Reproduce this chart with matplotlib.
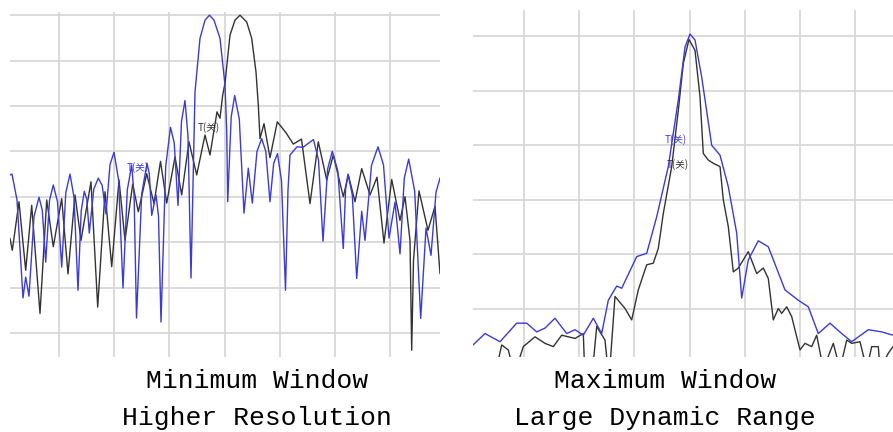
import numpy as np
import matplotlib
matplotlib.use("Agg")
import matplotlib.pyplot as plt

# ---- left panel: minimum window (trace point index, level in dB) ----
min_blue_x = [0, 2, 7, 13, 15.7, 19, 24, 29, 32.3, 35.7, 39.5, 43.3, 47.5, 51.7, 55.8, 60, 64, 68,
              71.2, 74.3, 76.8, 79.3, 83.8, 88.3, 92.2, 96, 100, 104, 108.5, 113, 117.3, 121.7, 124.1,
              126.5, 131.7, 137, 139.3, 141.7, 146, 148.5, 151, 155.7, 160.5, 164.2, 168, 171.5, 175,
              178, 181, 185, 190, 195, 199.5, 204, 210, 215, 216.7, 217.7, 221.2, 224.7, 229.3, 234,
              238.3, 242.3, 247, 251.7, 255.8, 260, 263.7, 267.5, 271.5, 275.5, 278, 280, 287, 293,
              303.5, 308.5, 313, 317.6, 322.3, 327.8, 333.3, 335.6, 338, 342.3, 346.7, 351.7, 355,
              361.5, 368, 373.5, 379, 385, 390, 394.3, 398.7, 404.7, 410.7, 416, 421, 426, 430]
min_blue_db = [-35.2, -35.0, -40.7, -62.3, -57.7, -61.9, -44.4, -40.1, -43.0, -54.4, -40.8, -37.4,
               -41.1, -55.5, -39.1, -35.0, -40.1, -60.6, -43.1, -38.8, -40.6, -48.0, -38.3, -35.9,
               -37.5, -43.8, -32.9, -30.2, -36.2, -60.1, -38.5, -33.0, -39.8, -66.7, -39.4, -32.6,
               -34.9, -44.1, -39.6, -44.3, -67.6, -33.3, -24.7, -28.1, -41.9, -23.4, -18.8, -26.7,
               -57.9, -16.9, -5.1, -1.1, 0.0, -1.1, -5.1, -15.4, -25.3, -41.1, -22.4, -17.7, -22.9,
               -43.6, -33.7, -41.4, -30.0, -27.2, -30.0, -41.1, -32.6, -30.5, -36.5, -60.6, -38.5,
               -30.8, -29.0, -29.1, -27.4, -31.9, -49.8, -33.9, -30.0, -34.3, -51.4, -38.3, -35.0,
               -39.6, -58.0, -43.2, -49.6, -33.1, -29.0, -33.0, -49.1, -41.2, -52.6, -35.9, -31.7,
               -38.8, -66.8, -46.9, -52.9, -39.0, -35.9]

min_black_x = [0, 2.3, 9, 15.7, 21.7, 30, 36.7, 43.3, 51.7, 58, 65, 71, 81, 87.7, 95, 101.7, 109,
               115, 122.7, 128.3, 136.7, 144, 150.5, 156.7, 165, 171.7, 179, 186.7, 195, 200, 207,
               210, 212.7, 215, 220, 225, 230, 236.7, 241.7, 246, 248.3, 250, 254, 260, 267.3, 276,
               283.3, 291.5, 300, 308.3, 316.7, 323.3, 333.3, 338.3, 345, 351.7, 360, 367, 374,
               381.7, 390, 395, 400, 401.7, 403.5, 409, 418, 425, 430]
min_black_db = [-49.2, -51.8, -41.1, -56.2, -41.9, -65.7, -40.7, -51.0, -40.4, -57.0, -39.6, -49.6,
                -36.7, -64.3, -38.9, -55.4, -36.3, -49.6, -37.2, -43.3, -34.9, -41.5, -32.2, -41.4,
                -31.2, -39.6, -27.9, -35.2, -26.4, -30.8, -21.3, -22.7, -17.6, -15.0, -4.4, -1.1,
                0.0, -1.5, -5.1, -12.5, -19.8, -27.2, -23.9, -31.4, -23.5, -25.9, -28.4, -27.3,
                -41.5, -27.9, -36.3, -30.8, -40.0, -35.2, -41.1, -33.8, -39.6, -35.7, -50.2, -36.2,
                -45.2, -40.0, -49.6, -73.8, -54.0, -38.7, -47.4, -42.1, -56.9]

# ---- right panel: maximum window ----
max_blue_x = [0, 12, 27, 43.7, 53.7, 63.7, 72, 82, 93.7, 102, 110.3, 120.3, 128.7, 135.3, 143.7,
              148.7, 163.7, 173.7, 183.7, 195.3, 205.3, 212, 217, 222, 228.7, 238.7, 247, 255.3,
              263.7, 268.7, 275.3, 285.3, 295.3, 312, 325.3, 335.3, 345.3, 357, 368.7, 378.7,
              395.3, 408.7, 420]
max_blue_db = [-56.6, -54.5, -56.0, -52.6, -52.6, -54.2, -53.5, -51.7, -54.5, -53.8, -54.8, -51.7,
               -54.5, -48.4, -45.8, -46.2, -40.4, -39.8, -33.1, -23.9, -11.7, -2.0, 0.4, -0.7,
               -7.5, -20.0, -21.8, -27.6, -36.1, -48.0, -41.0, -37.5, -38.6, -46.5, -48.4, -49.6,
               -54.5, -52.6, -54.5, -56.0, -53.8, -54.2, -54.8]

max_black_x = [22, 28.7, 35.3, 41.3, 50.3, 62, 72, 80.3, 88.7, 102, 110.3, 112, 118.7, 123.7, 132,
               136, 142, 152, 158.7, 165.3, 173.7, 180.3, 185.3, 190.3, 198.7, 205.3, 210.3, 216,
               222, 227, 230.3, 235.3, 240.3, 247, 250.3, 255.3, 260.3, 265.3, 275.3, 283.7,
               290.3, 295.3, 300.3, 305.3, 308.7, 313.7, 318.7, 327, 332, 338.7, 343.7, 350.3,
               360.3, 367, 373.7, 378.7, 387, 393.7, 398.7, 405.3, 407, 415.3, 420]
max_black_db = [-62, -56.6, -57.5, -62, -56.9, -55.1, -56.3, -56.9, -54.8, -55.4, -54.5, -63, -63,
                -53.2, -55.7, -63, -47.7, -49.9, -52.0, -46.5, -41.9, -41.6, -38.9, -32.5, -23.9,
                -13.6, -5.0, -0.6, -2.6, -11.1, -21.5, -22.7, -23.3, -23.9, -30.0, -34.9, -43.2,
                -42.5, -39.5, -43.5, -42.5, -44.4, -52.0, -49.9, -50.8, -49.6, -51.4, -57.5, -56.3,
                -56.9, -54.8, -61, -56.3, -61, -55.7, -56.3, -56.0, -61, -56.9, -56.9, -61, -58.1,
                -56.9]

marker_label = "T(关)"
captions_left = ["Minimum Window", "Higher Resolution"]
captions_right = ["Maximum Window", "Large Dynamic Range"]

BLUE = '#3b3bd6'
BLACK = '#333333'
GRID = '#d8d8d8'


def setup(ax, xticks, yticks, xlim, ylim):
    ax.set_xlim(*xlim)
    ax.set_ylim(*ylim)
    ax.set_xticks(xticks)
    ax.set_yticks(yticks)
    ax.grid(True, color=GRID, lw=1.3)
    ax.set_axisbelow(True)
    ax.tick_params(length=0, labelbottom=False, labelleft=False)
    for s in ax.spines.values():
        s.set_visible(False)


fig = plt.figure(figsize=(8.93, 4.32), dpi=100)
W, H = 893.0, 432.0

ax1 = fig.add_axes([10 / W, 1 - 357 / H, 430 / W, 345 / H])
setup(ax1, 49 + 55.2 * np.arange(7), np.arange(0, -71, -10), (0, 430), (-75.3, 0.7))
ax1.plot(min_black_x, min_black_db, color=BLACK, lw=1.0)
ax1.plot(min_blue_x, min_blue_db, color=BLUE, lw=1.0)
ax1.text(117, -33.5, marker_label, color=BLUE, fontsize=7, va='center',
         family=['Noto Sans CJK SC', 'DejaVu Sans'])
ax1.text(188, -24.7, marker_label, color=BLACK, fontsize=7, va='center',
         family=['Noto Sans CJK SC', 'DejaVu Sans'])

ax2 = fig.add_axes([473 / W, 1 - 357 / H, 420 / W, 347 / H])
setup(ax2, 51 + 55.2 * np.arange(7), np.arange(0, -51, -10), (0, 420), (-58.8, 4.8))
ax2.plot(max_black_x, max_black_db, color=BLACK, lw=1.0)
ax2.plot(max_blue_x, max_blue_db, color=BLUE, lw=1.0)
ax2.text(192, -19.0, marker_label, color=BLUE, fontsize=7, va='center',
         family=['Noto Sans CJK SC', 'DejaVu Sans'])
ax2.text(194, -23.6, marker_label, color=BLACK, fontsize=7, va='center',
         family=['Noto Sans CJK SC', 'DejaVu Sans'])

for i, (cl, cr) in enumerate(zip(captions_left, captions_right)):
    y = 1 - (381 + 37 * i) / H
    fig.text(257 / W, y, cl, ha='center', va='center', fontsize=19, family='Liberation Mono')
    fig.text(665 / W, y, cr, ha='center', va='center', fontsize=19, family='Liberation Mono')

fig.savefig("out.png", dpi=100)
